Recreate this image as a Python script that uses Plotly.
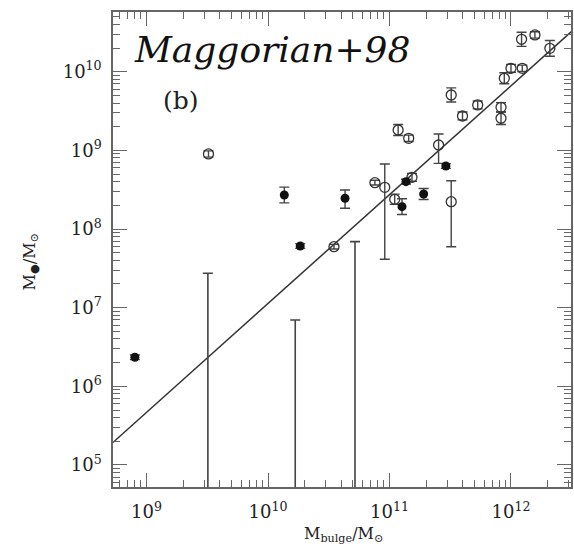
import plotly.graph_objects as go

# ---- data (log10 values) ----
open_lx = [9.51, 10.543, 10.961, 10.880, 11.043, 11.185, 11.508, 11.404, 11.071, 11.158,
           11.508, 11.601, 11.726, 11.918, 11.918, 11.945, 12.0, 12.093, 12.087, 12.197, 12.320]
open_ly = [8.954, 7.775, 8.530, 8.589, 8.378, 8.657, 8.347, 9.068, 9.259, 9.153,
           9.704, 9.437, 9.577, 9.547, 9.408, 9.916, 10.043, 10.043, 10.412, 10.467, 10.297]
open_eup = [0.04, 0.03, 0.297, 0.03, 0.065, 0.05, 0.267, 0.14, 0.07, 0.04,
            0.09, 0.05, 0.05, 0.06, 0.08, 0.07, 0.05, 0.04, 0.09, 0.04, 0.10]
open_edn = [0.04, 0.03, 0.915, 0.03, 0.065, 0.05, 0.572, 0.233, 0.07, 0.04,
            0.09, 0.05, 0.05, 0.06, 0.08, 0.07, 0.05, 0.04, 0.09, 0.04, 0.10]

fill_lx = [8.904, 10.134, 10.265, 10.634, 11.103, 11.136, 11.281, 11.464]
fill_ly = [6.369, 8.432, 7.784, 8.391, 8.284, 8.602, 8.445, 8.801]
fill_eup = [0.03, 0.10, 0.03, 0.105, 0.10, 0.03, 0.07, 0.03]
fill_edn = [0.03, 0.10, 0.03, 0.128, 0.10, 0.03, 0.07, 0.03]

lim_lx = [9.505, 10.224, 10.716]
lim_top = [7.437, 6.843, 7.839]

fit_lx = [8.721, 12.497]
fit_ly = [5.283, 10.509]

x_ticks = [9, 10, 11, 12]
y_ticks = [5, 6, 7, 8, 9, 10]


def p(v):
    return [10 ** a for a in v]


def errs(ly, e, sign):
    return [10 ** (a + sign * d) - 10 ** a if sign > 0 else 10 ** a - 10 ** (a - d) for a, d in zip(ly, e)]


ecol = "#444444"
fig = go.Figure()

fig.add_trace(go.Scatter(x=p(fit_lx), y=p(fit_ly), mode="lines",
                         line=dict(color="#333333", width=1.5), showlegend=False))

fig.add_trace(go.Scatter(
    x=p(lim_lx), y=p(lim_top), mode="markers",
    marker=dict(size=1, opacity=0),
    error_y=dict(type="data", symmetric=False, array=[0] * len(lim_lx),
                 arrayminus=[10 ** t - 1 for t in lim_top],
                 color=ecol, thickness=1.6, width=5),
    showlegend=False))

fig.add_trace(go.Scatter(
    x=p(open_lx), y=p(open_ly), mode="markers",
    marker=dict(symbol="circle-open", size=10, color="#333333", line=dict(width=1.3)),
    error_y=dict(type="data", symmetric=False,
                 array=errs(open_ly, open_eup, 1), arrayminus=errs(open_ly, open_edn, -1),
                 color=ecol, thickness=1.4, width=5),
    showlegend=False))

fig.add_trace(go.Scatter(
    x=p(fill_lx), y=p(fill_ly), mode="markers",
    marker=dict(symbol="circle", size=9, color="#111111"),
    error_y=dict(type="data", symmetric=False,
                 array=errs(fill_ly, fill_eup, 1), arrayminus=errs(fill_ly, fill_edn, -1),
                 color=ecol, thickness=1.4, width=5),
    showlegend=False))

tickfont = dict(family="DejaVu Serif", size=18, color="#222222")
axis_common = dict(type="log", showgrid=False, zeroline=False, showline=True,
                   linecolor="#666666", linewidth=1.5, mirror="allticks",
                   ticks="inside", ticklen=14, tickwidth=1.2, tickcolor="#666666",
                   tickfont=tickfont,
                   minor=dict(ticks="inside", ticklen=7, tickwidth=1.2, tickcolor="#666666",
                              dtick="D1", showgrid=False))

fig.update_xaxes(**axis_common, range=[8.724, 12.494], ticklabelstandoff=8,
                 tickvals=[10 ** t for t in x_ticks],
                 ticktext=[f"10<sup>{t}</sup>" for t in x_ticks])
fig.update_yaxes(**axis_common, range=[4.720, 10.759], ticklabelstandoff=6,
                 tickvals=[10 ** t for t in y_ticks],
                 ticktext=[f"10<sup>{t}</sup>" for t in y_ticks])

ann = [
    dict(text="<i>Maggorian+98</i>", x=0.042, y=0.92, xref="paper", yref="paper",
         xanchor="left", yanchor="middle", showarrow=False,
         font=dict(family="DejaVu Serif", size=36, color="#111111")),
    dict(text="(b)", x=0.148, y=0.8147, xref="paper", yref="paper",
         xanchor="center", yanchor="middle", showarrow=False,
         font=dict(family="DejaVu Serif", size=25, color="#222222")),
    dict(text="M<sub>bulge</sub>/M<sub>⊙</sub>", x=0.504, y=-0.101, xref="paper", yref="paper",
         xanchor="center", yanchor="middle", showarrow=False,
         font=dict(family="DejaVu Serif", size=16, color="#222222")),
    dict(text="M<sub>●</sub>/M<sub>⊙</sub>", x=-0.180, y=0.474, xref="paper", yref="paper",
         xanchor="center", yanchor="middle", showarrow=False, textangle=-90,
         font=dict(family="DejaVu Serif", size=16, color="#222222")),
]

fig.update_layout(width=574, height=551, margin=dict(l=113, r=1, t=12, b=64),
                  paper_bgcolor="white", plot_bgcolor="white", annotations=ann)

fig.write_html("out.html")
